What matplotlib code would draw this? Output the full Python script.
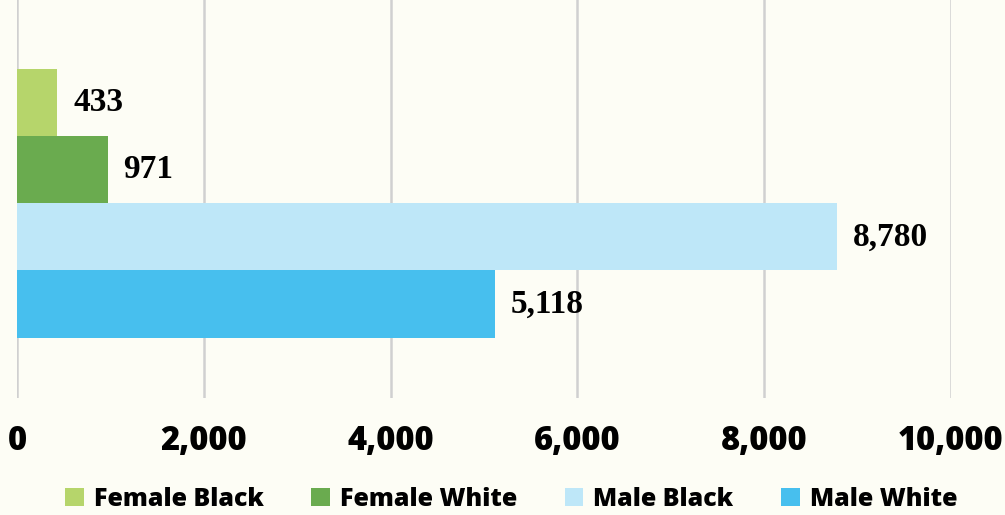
import matplotlib.pyplot as plt

groups = ["Female Black", "Female White", "Male Black", "Male White"]
counts = [433, 971, 8780, 5118]
colors = ["#B6D56B", "#6AAB4F", "#BEE7F8", "#47BFEE"]
xticks = [0, 2000, 4000, 6000, 8000, 10000]

bg = "#FDFDF5"

fig = plt.figure(figsize=(10.05, 5.15), dpi=100)
fig.patch.set_facecolor(bg)
ax = fig.add_axes([17 / 1005, 1 - 398 / 515, (951 - 17) / 1005, 398 / 515])
ax.set_facecolor(bg)

bars = []
for i, (g, v, c) in enumerate(zip(groups, counts, colors)):
    b = ax.barh(i, v, height=1.0, color=c, label=g, zorder=2)
    bars.append(b)
    ax.text(v + 170, i, f"{v:,}", va="center", ha="left",
            family="Liberation Serif", fontweight="bold", fontsize=24, zorder=3)

ax.set_xlim(0, 10000)
ax.set_ylim(4.4, -1.53)
ax.set_xticks(xticks)
ax.set_xticklabels([f"{t:,}" for t in xticks], family="Open Sans",
                   fontweight="heavy", fontsize=23.5)
ax.set_yticks([])
ax.tick_params(axis="x", length=0, pad=19)
ax.grid(axis="x", color="#D0D0D0", linewidth=1.8, zorder=0)
for s in ax.spines.values():
    s.set_visible(False)

leg = fig.legend(handles=bars, labels=groups, loc="center", ncol=4,
                 bbox_to_anchor=(511 / 1005, 1 - 499 / 515), frameon=False,
                 prop={"family": "Open Sans", "weight": "heavy", "size": 18},
                 handlelength=0.75, handleheight=0.75, handletextpad=0.4,
                 columnspacing=1.9, borderaxespad=0)

plt.savefig("out.png", dpi=100, facecolor=bg)
